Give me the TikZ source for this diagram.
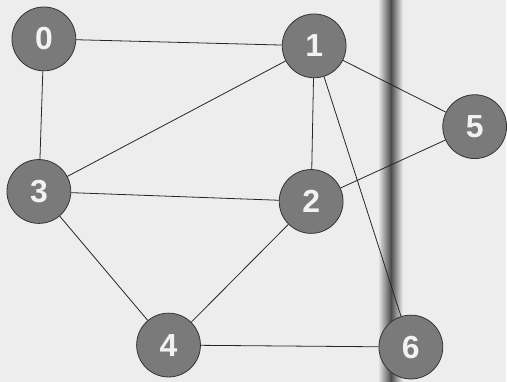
\documentclass[tikz,border=0pt]{standalone}
\usepackage{fontspec}
\setsansfont{Liberation Sans}
\usetikzlibrary{positioning}

\begin{document}
\begin{tikzpicture}[x=1pt,y=-1pt]
% paper and fold shadow
\fill [black!7] (0,0) rectangle (507,383);
\shade [left color=black!7, right color=black!70] (379,0) rectangle (392,383);
\shade [left color=black!70, right color=black!7] (392,0) rectangle (404,383);
\begin{scope}[every node/.style={circle, draw=black!80, thick, fill=black!52, text=black!5,
    minimum size=64pt, inner sep=0pt, font=\fontsize{32}{32}\selectfont\sffamily\bfseries}]
\node (v0) at (44,39)   {0};
\node (v1) at (315,46)  {1};
\node (v5) at (476,127) {5};
\node (v3) at (39,192)  {3};
\node (v2) at (312,202) {2};
\node (v4) at (169,346) {4};
\node (v6) at (412,348) {6};
\end{scope}
\foreach \a/\b in {0/1,0/3,1/3,1/2,1/5,1/6,3/2,2/5,3/4,2/4,4/6} {
  \draw [black!85, line width=0.8pt] (v\a) -- (v\b);
}
\end{tikzpicture}
\end{document}
